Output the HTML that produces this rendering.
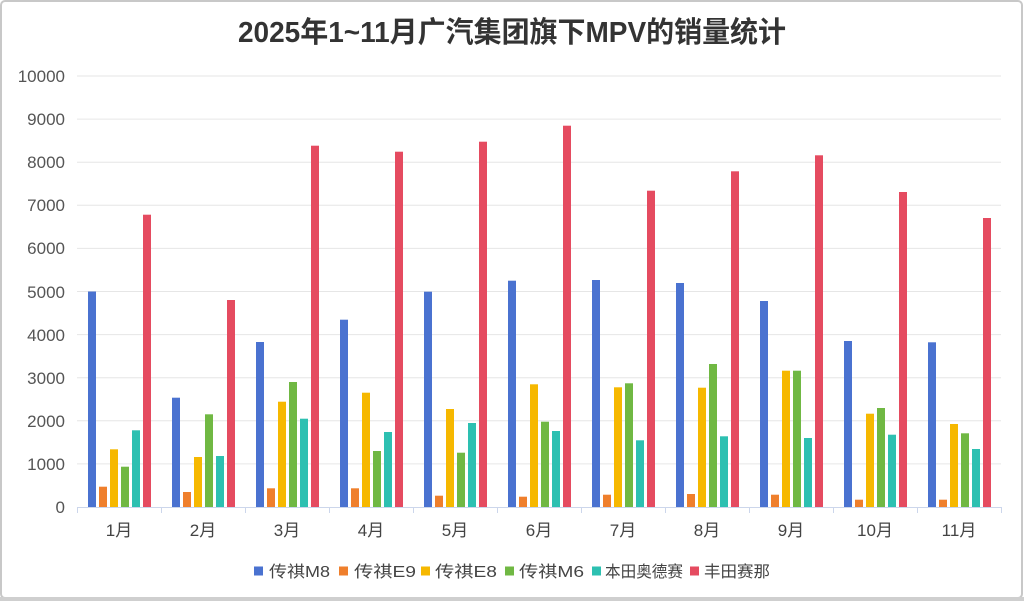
<!DOCTYPE html>
<html><head><meta charset="utf-8"><style>
html,body{margin:0;padding:0;background:#fff;}
body{width:1024px;height:601px;overflow:hidden;}
svg{display:block;}
text{font-family:"Liberation Sans","Noto Sans CJK SC",sans-serif;}
</style></head><body>
<svg width="1024" height="601" viewBox="0 0 1024 601" xmlns="http://www.w3.org/2000/svg">
<rect x="0" y="0" width="1024" height="601" fill="#fff"/>
<rect x="1" y="1" width="1021" height="597" rx="4" ry="4" fill="none" stroke="#c8c8c8" stroke-width="2"/>
<rect x="0" y="597" width="1024" height="4" fill="#cfcfcf"/>
<text x="512" y="42" text-anchor="middle" font-size="29" font-weight="bold" fill="#333" textLength="548" lengthAdjust="spacingAndGlyphs">2025年1~11月广汽集团旗下MPV的销量统计</text>
<g stroke="#e6e6e6" stroke-width="1">
<line x1="77" x2="1001" y1="463.9" y2="463.9"/>
<line x1="77" x2="1001" y1="420.8" y2="420.8"/>
<line x1="77" x2="1001" y1="377.7" y2="377.7"/>
<line x1="77" x2="1001" y1="334.6" y2="334.6"/>
<line x1="77" x2="1001" y1="291.5" y2="291.5"/>
<line x1="77" x2="1001" y1="248.4" y2="248.4"/>
<line x1="77" x2="1001" y1="205.3" y2="205.3"/>
<line x1="77" x2="1001" y1="162.2" y2="162.2"/>
<line x1="77" x2="1001" y1="119.1" y2="119.1"/>
<line x1="77" x2="1001" y1="76" y2="76"/>
</g>
<g font-size="17" fill="#555" text-anchor="end">
<text x="65" y="513">0</text>
<text x="65" y="470">1000</text>
<text x="65" y="427">2000</text>
<text x="65" y="384">3000</text>
<text x="65" y="341">4000</text>
<text x="65" y="298">5000</text>
<text x="65" y="254">6000</text>
<text x="65" y="211">7000</text>
<text x="65" y="168">8000</text>
<text x="65" y="125">9000</text>
<text x="65" y="82">10000</text>
</g>
<g transform="translate(0,507) scale(1,-1)">
<g fill="#4a72d0">
<rect x="88" y="0" width="8" height="215.5"/>
<rect x="172" y="0" width="8" height="109.3"/>
<rect x="256" y="0" width="8" height="165"/>
<rect x="340" y="0" width="8" height="187.3"/>
<rect x="424" y="0" width="8" height="215.3"/>
<rect x="508" y="0" width="8" height="226.3"/>
<rect x="592" y="0" width="8" height="227"/>
<rect x="676" y="0" width="8" height="224"/>
<rect x="760" y="0" width="8" height="206"/>
<rect x="844" y="0" width="8" height="166"/>
<rect x="928" y="0" width="8" height="164.7"/>
</g>
<g fill="#ef7f2c">
<rect x="99" y="0" width="8" height="20.3"/>
<rect x="183" y="0" width="8" height="15"/>
<rect x="267" y="0" width="8" height="18.7"/>
<rect x="351" y="0" width="8" height="18.7"/>
<rect x="435" y="0" width="8" height="11.3"/>
<rect x="519" y="0" width="8" height="10.3"/>
<rect x="603" y="0" width="8" height="12.3"/>
<rect x="687" y="0" width="8" height="13"/>
<rect x="771" y="0" width="8" height="12.3"/>
<rect x="855" y="0" width="8" height="7.3"/>
<rect x="939" y="0" width="8" height="7.3"/>
</g>
<g fill="#f6b800">
<rect x="110" y="0" width="8" height="57.7"/>
<rect x="194" y="0" width="8" height="50"/>
<rect x="278" y="0" width="8" height="105.3"/>
<rect x="362" y="0" width="8" height="114.3"/>
<rect x="446" y="0" width="8" height="98"/>
<rect x="530" y="0" width="8" height="122.7"/>
<rect x="614" y="0" width="8" height="119.7"/>
<rect x="698" y="0" width="8" height="119.3"/>
<rect x="782" y="0" width="8" height="136.3"/>
<rect x="866" y="0" width="8" height="93.3"/>
<rect x="950" y="0" width="8" height="83"/>
</g>
<g fill="#70b843">
<rect x="121" y="0" width="8" height="40.3"/>
<rect x="205" y="0" width="8" height="92.7"/>
<rect x="289" y="0" width="8" height="125"/>
<rect x="373" y="0" width="8" height="56"/>
<rect x="457" y="0" width="8" height="54.3"/>
<rect x="541" y="0" width="8" height="85.3"/>
<rect x="625" y="0" width="8" height="123.7"/>
<rect x="709" y="0" width="8" height="143"/>
<rect x="793" y="0" width="8" height="136.3"/>
<rect x="877" y="0" width="8" height="99"/>
<rect x="961" y="0" width="8" height="73.7"/>
</g>
<g fill="#2dc0b1">
<rect x="132" y="0" width="8" height="76.7"/>
<rect x="216" y="0" width="8" height="51"/>
<rect x="300" y="0" width="8" height="88.3"/>
<rect x="384" y="0" width="8" height="75"/>
<rect x="468" y="0" width="8" height="84"/>
<rect x="552" y="0" width="8" height="76"/>
<rect x="636" y="0" width="8" height="66.7"/>
<rect x="720" y="0" width="8" height="70.7"/>
<rect x="804" y="0" width="8" height="69"/>
<rect x="888" y="0" width="8" height="72.3"/>
<rect x="972" y="0" width="8" height="58"/>
</g>
<g fill="#e54b60">
<rect x="143" y="0" width="8" height="292.3"/>
<rect x="227" y="0" width="8" height="207"/>
<rect x="311" y="0" width="8" height="361.3"/>
<rect x="395" y="0" width="8" height="355.3"/>
<rect x="479" y="0" width="8" height="365.3"/>
<rect x="563" y="0" width="8" height="381.3"/>
<rect x="647" y="0" width="8" height="316.3"/>
<rect x="731" y="0" width="8" height="335.7"/>
<rect x="815" y="0" width="8" height="351.7"/>
<rect x="899" y="0" width="8" height="315"/>
<rect x="983" y="0" width="8" height="289"/>
</g>
</g>
<line x1="77" x2="1001" y1="507.5" y2="507.5" stroke="#ccd6eb" stroke-width="1"/>
<g stroke="#ccd6eb" stroke-width="1">
<line x1="77.5" x2="77.5" y1="507" y2="513"/>
<line x1="161.5" x2="161.5" y1="507" y2="513"/>
<line x1="245.5" x2="245.5" y1="507" y2="513"/>
<line x1="329.5" x2="329.5" y1="507" y2="513"/>
<line x1="413.5" x2="413.5" y1="507" y2="513"/>
<line x1="497.5" x2="497.5" y1="507" y2="513"/>
<line x1="581.5" x2="581.5" y1="507" y2="513"/>
<line x1="665.5" x2="665.5" y1="507" y2="513"/>
<line x1="749.5" x2="749.5" y1="507" y2="513"/>
<line x1="833.5" x2="833.5" y1="507" y2="513"/>
<line x1="917.5" x2="917.5" y1="507" y2="513"/>
<line x1="1001.5" x2="1001.5" y1="507" y2="513"/>
</g>
<g font-size="17" fill="#444" text-anchor="middle">
<text x="119" y="536">1月</text>
<text x="203" y="536">2月</text>
<text x="287" y="536">3月</text>
<text x="371" y="536">4月</text>
<text x="455" y="536">5月</text>
<text x="539" y="536">6月</text>
<text x="623" y="536">7月</text>
<text x="707" y="536">8月</text>
<text x="791" y="536">9月</text>
<text x="875" y="536">10月</text>
<text x="959" y="536">11月</text>
</g>
<g font-size="16" fill="#444">
<rect x="254" y="566.5" width="9" height="9" fill="#4a72d0"/>
<text x="269" y="577" textLength="61" lengthAdjust="spacingAndGlyphs">传祺M8</text>
<rect x="339" y="566.5" width="9" height="9" fill="#ef7f2c"/>
<text x="354" y="577" textLength="62" lengthAdjust="spacingAndGlyphs">传祺E9</text>
<rect x="421" y="566.5" width="9" height="9" fill="#f6b800"/>
<text x="435" y="577" textLength="62" lengthAdjust="spacingAndGlyphs">传祺E8</text>
<rect x="505" y="566.5" width="9" height="9" fill="#70b843"/>
<text x="519" y="577" textLength="65" lengthAdjust="spacingAndGlyphs">传祺M6</text>
<rect x="592" y="566.5" width="9" height="9" fill="#2dc0b1"/>
<text x="605" y="577" textLength="78" lengthAdjust="spacingAndGlyphs">本田奥德赛</text>
<rect x="690" y="566.5" width="9" height="9" fill="#e54b60"/>
<text x="704" y="577" textLength="66" lengthAdjust="spacingAndGlyphs">丰田赛那</text>
</g>
</svg>
</body></html>
